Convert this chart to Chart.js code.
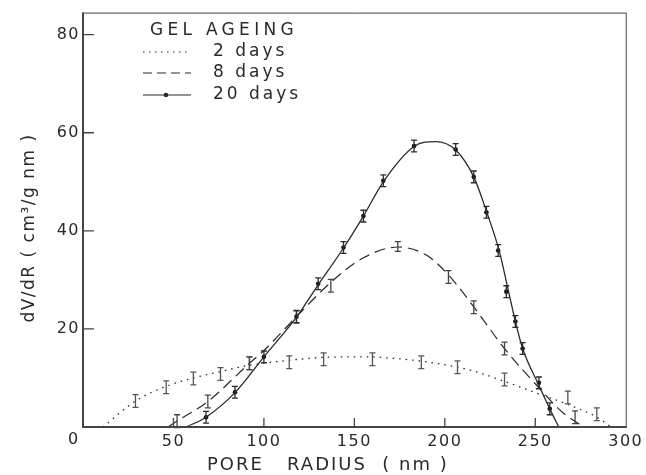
<!DOCTYPE html>
<html>
<head>
<meta charset="utf-8">
<script src="https://cdn.jsdelivr.net/npm/chart.js@4/dist/chart.umd.min.js"></script>
<style>
html,body{margin:0;padding:0;background:#fff;}
#wrap{width:646px;height:475px;}
</style>
</head>
<body>
<div id="wrap"><canvas id="c" width="646" height="475"></canvas></div>
<script>
// ---- data ----
const xTickValues = [0, 50, 100, 150, 200, 250, 300];
const yTickValues = [0, 20, 40, 60, 80];
const seriesNames = ["2 days", "8 days", "20 days"];
const legendTitle = "GEL AGEING";
const xTitle = "PORE   RADIUS  ( nm )";
const yTitle = "dV/dR ( cm\u00B3/g nm )";

// measured points (pore radius nm, dV/dR)
const days2X = [29, 46, 61, 76, 92, 114, 133, 160, 187, 207, 233, 268, 284];
const days2Y = [5.3, 8.1, 9.9, 10.8, 13.0, 13.2, 13.8, 13.8, 13.2, 12.2, 9.7, 6.0, 2.6];
const days2Err = [1.3, 1.3, 1.3, 1.3, 1.3, 1.3, 1.3, 1.3, 1.3, 1.3, 1.3, 1.3, 1.3];

const days8X = [52, 69, 92, 118, 137, 174, 202, 216, 233, 272];
const days8Y = [1.2, 5.2, 13.0, 22.5, 28.8, 36.8, 30.6, 24.4, 16.0, 2.0];
const days8Err = [1.3, 1.3, 1.3, 1.3, 1.3, 1.0, 1.3, 1.3, 1.3, 1.3];

const days20X = [68, 84, 100, 118, 130, 144, 155, 166, 183, 206, 216, 223, 229.5, 234, 239, 243, 252, 258];
const days20Y = [2.0, 7.1, 14.3, 22.5, 29.2, 36.6, 43.0, 50.2, 57.3, 56.6, 51.0, 43.8, 36.0, 27.6, 21.5, 16.0, 9.0, 3.7];
const days20Err = [1.2, 1.2, 1.2, 1.2, 1.2, 1.2, 1.2, 1.2, 1.2, 1.2, 1.2, 1.2, 1.2, 1.2, 1.2, 1.2, 1.2, 1.2];

// fitted curves
const curve2X = [11, 29, 46, 61, 76, 92, 114, 133, 155, 175, 195, 215, 233, 250, 268, 284, 292];
const curve2Y = [0, 5.3, 8.3, 10.0, 11.3, 12.6, 13.6, 14.2, 14.3, 13.9, 13.0, 11.5, 9.3, 7.0, 4.6, 2.0, 0];

const curve8X = [47, 52, 69, 92, 100, 118, 137, 155, 174, 190, 202, 216, 233, 252, 265, 277];
const curve8Y = [0, 1.2, 5.2, 13.0, 15.6, 22.5, 29.5, 34.5, 36.7, 35.0, 31.0, 24.5, 16.0, 8.0, 3.0, 0];

const curve20X = [57, 68, 84, 100, 118, 130, 144, 155, 166, 183, 195, 206, 216, 223, 230, 235, 239, 243, 252, 258, 263];
const curve20Y = [0, 2.0, 7.0, 14.3, 22.4, 29.0, 36.5, 43.0, 50.0, 57.2, 58.2, 56.5, 51.0, 44.0, 36.0, 28.0, 21.5, 16.0, 8.5, 3.7, 0];

const pts = (xs, ys) => xs.map((x, i) => ({x: x, y: ys[i]}));

const INK = "#2a2a2a";
const FONT = "DejaVu Sans";

const spacing = {
  id: "spacing",
  beforeDraw(chart) { chart.ctx.letterSpacing = "1.5px"; }
};

const errorBars = {
  id: "errorBars",
  afterDatasetsDraw(chart) {
    const ctx = chart.ctx;
    const ys = chart.scales.y;
    chart.data.datasets.forEach((ds, di) => {
      if (!ds.errors) return;
      const meta = chart.getDatasetMeta(di);
      ctx.save();
      ctx.strokeStyle = ds.errColor || INK;
      ctx.lineWidth = 1.3;
      meta.data.forEach((el, i) => {
        const v = ds.data[i].y, e = ds.errors[i];
        const x = el.x;
        const y1 = ys.getPixelForValue(v + e), y2 = ys.getPixelForValue(v - e);
        ctx.beginPath();
        ctx.moveTo(x, y1); ctx.lineTo(x, y2);
        ctx.moveTo(x - 3, y1); ctx.lineTo(x + 3, y1);
        ctx.moveTo(x - 3, y2); ctx.lineTo(x + 3, y2);
        ctx.stroke();
      });
      ctx.restore();
    });
  }
};

const decor = {
  id: "decor",
  afterDraw(chart) {
    const ctx = chart.ctx;
    const a = chart.chartArea;
    const xs = chart.scales.x, ys = chart.scales.y;
    ctx.save();
    // frame
    ctx.strokeStyle = "#444";
    ctx.lineWidth = 1;
    ctx.beginPath();
    ctx.moveTo(a.left, a.top + 0.5); ctx.lineTo(a.right + 0.5, a.top + 0.5); ctx.lineTo(a.right + 0.5, a.bottom);
    ctx.stroke();
    ctx.lineWidth = 2;
    ctx.beginPath();
    ctx.moveTo(a.left, a.top); ctx.lineTo(a.left, a.bottom); ctx.lineTo(a.right + 1, a.bottom);
    ctx.stroke();
    // inward ticks
    ctx.lineWidth = 1.3;
    ctx.beginPath();
    xTickValues.forEach(v => {
      if (v === 0 || v === 300) return;
      const px = xs.getPixelForValue(v);
      ctx.moveTo(px, a.bottom); ctx.lineTo(px, a.bottom - 9);
    });
    yTickValues.forEach(v => {
      if (v === 0) return;
      const py = ys.getPixelForValue(v);
      ctx.moveTo(a.left, py); ctx.lineTo(a.left + 11, py);
    });
    ctx.stroke();
    // corner zero label
    ctx.fillStyle = INK;
    ctx.letterSpacing = "0px";
    ctx.font = "16px " + FONT;
    ctx.textAlign = "center"; ctx.textBaseline = "middle";
    ctx.fillText("0", a.left - 10, a.bottom + 13);
    // axis titles
    ctx.textAlign = "left";
    ctx.font = "18px " + FONT;
    ctx.letterSpacing = "2px";
    ctx.fillText(xTitle, 207, 465);
    ctx.save();
    ctx.font = "17px " + FONT;
    ctx.letterSpacing = "1.5px";
    ctx.textAlign = "center";
    ctx.translate(30, 228);
    ctx.rotate(-Math.PI / 2);
    ctx.fillText(yTitle, 0, 0);
    ctx.restore();
    // legend
    ctx.textAlign = "left";
    ctx.font = "17px " + FONT;
    ctx.letterSpacing = "4.3px";
    ctx.fillText(legendTitle, 150, 31);
    ctx.letterSpacing = "3px";
    const rows = [52, 73, 95];
    const dashes = [[1.5, 4.5], [9, 5], []];
    rows.forEach((yy, i) => {
      ctx.save();
      ctx.strokeStyle = INK;
      ctx.lineWidth = 1.2;
      ctx.setLineDash(dashes[i]);
      ctx.beginPath();
      ctx.moveTo(143, yy); ctx.lineTo(191, yy);
      ctx.stroke();
      ctx.restore();
      if (i === 2) {
        ctx.beginPath(); ctx.arc(166, yy, 2.3, 0, Math.PI * 2); ctx.fill();
      }
      ctx.fillText(seriesNames[i], 213, yy);
    });
    ctx.restore();
  }
};

new Chart(document.getElementById("c"), {
  type: "scatter",
  data: {
    datasets: [
      {label: "2 days curve", data: pts(curve2X, curve2Y), showLine: true, pointRadius: 0,
       borderColor: INK, borderWidth: 1.3, borderDash: [1.5, 5], cubicInterpolationMode: "monotone"},
      {label: "8 days curve", data: pts(curve8X, curve8Y), showLine: true, pointRadius: 0,
       borderColor: INK, borderWidth: 1.2, borderDash: [11, 6], cubicInterpolationMode: "monotone"},
      {label: "20 days curve", data: pts(curve20X, curve20Y), showLine: true, pointRadius: 0,
       borderColor: INK, borderWidth: 1.3, cubicInterpolationMode: "monotone"},
      {label: seriesNames[0], data: pts(days2X, days2Y), errors: days2Err, errColor: "#555",
       pointRadius: 0, showLine: false},
      {label: seriesNames[1], data: pts(days8X, days8Y), errors: days8Err, errColor: "#444",
       pointRadius: 0, showLine: false},
      {label: seriesNames[2], data: pts(days20X, days20Y), errors: days20Err,
       pointRadius: 2.3, pointBackgroundColor: "#111", pointBorderWidth: 0, showLine: false}
    ]
  },
  options: {
    responsive: false,
    animation: false,
    events: [],
    layout: {padding: {top: 11, right: 10, left: 0, bottom: 0}},
    plugins: {legend: {display: false}, tooltip: {enabled: false}},
    scales: {
      x: {
        type: "linear", min: 0, max: 300,
        afterFit: s => { s.height = 48; },
        afterBuildTicks: s => { s.ticks = xTickValues.map(v => ({value: v})); },
        grid: {display: false, drawTicks: false},
        border: {display: false},
        ticks: {color: INK, font: {family: FONT, size: 16}, padding: 5, maxRotation: 0,
                callback: v => (v === 0 ? "" : String(v))}
      },
      y: {
        type: "linear", min: 0, max: 84.5,
        afterFit: s => { s.width = 83; },
        afterBuildTicks: s => { s.ticks = yTickValues.map(v => ({value: v})); },
        grid: {display: false, drawTicks: false},
        border: {display: false},
        ticks: {color: INK, font: {family: FONT, size: 16}, padding: 3,
                callback: v => (v === 0 ? "" : String(v))}
      }
    }
  },
  plugins: [spacing, errorBars, decor]
});
</script>
</body>
</html>
